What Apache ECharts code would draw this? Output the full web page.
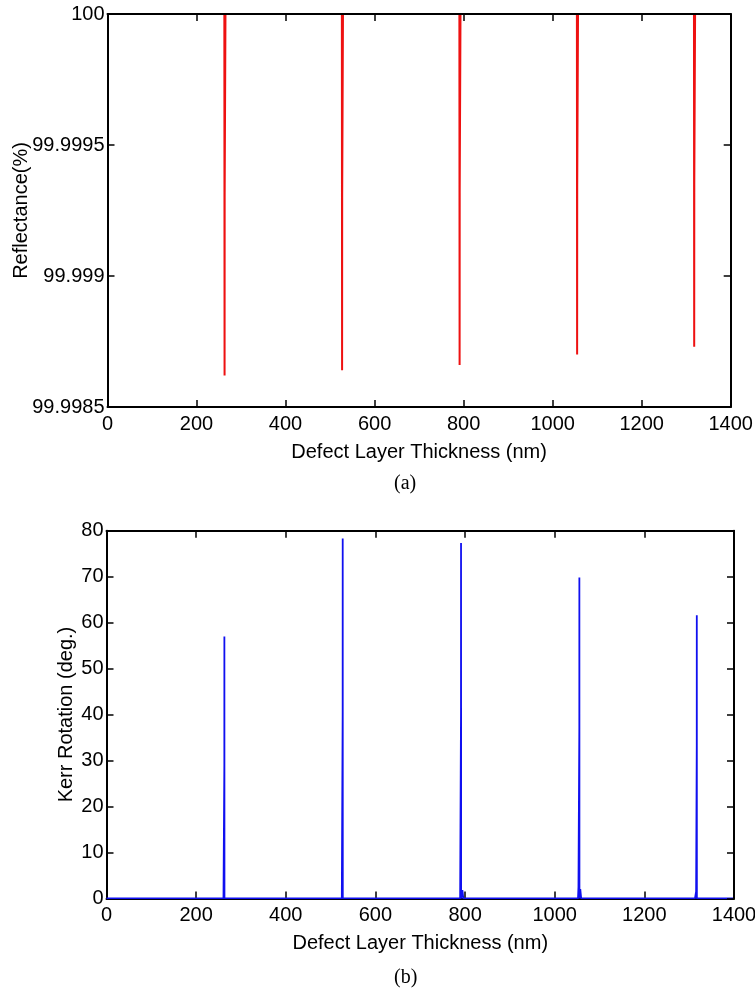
<!DOCTYPE html>
<html>
<head>
<meta charset="utf-8">
<script src="https://cdn.jsdelivr.net/npm/echarts@6/dist/echarts.min.js"></script>
<style>
html,body{margin:0;padding:0;background:#fff;}
#chart{width:755px;height:989px;}
</style>
</head>
<body>
<div id="chart"></div>
<script>
// ---- Data ----
// (a) Reflectance vs defect layer thickness
const reflThickness = [0,
  262.5, 263.0, 263.2, 265.0,
  526.5, 527.0, 527.2, 529.0,
  790.5, 791.0, 791.2, 793.0,
  1054.5, 1055.0, 1055.2, 1057.0,
  1317.5, 1318.0, 1318.2, 1320.0,
  1400];
const reflValue = [100,
  100, 99.99862, 99.99930, 100,
  100, 99.99864, 99.99930, 100,
  100, 99.99866, 99.99932, 100,
  100, 99.99870, 99.99934, 100,
  100, 99.99873, 99.99935, 100,
  100];

// (b) Kerr rotation vs defect layer thickness
const kerrThickness = [0,
  261.0, 262.9, 263.0, 263.2,
  525.0, 526.9, 527.0, 527.2,
  789.0, 790.9, 791.0, 791.2, 794.0, 796.0,
  1052.0, 1053.0, 1054.9, 1055.0, 1055.2, 1057.0, 1059.0,
  1313.0, 1315.5, 1316.9, 1317.0, 1317.2,
  1400];
const kerrValue = [0,
  0, 29.0, 57.0, 0,
  0, 40.3, 78.3, 0,
  0, 40.3, 77.3, 0, 1.8, 0,
  0, 2.5, 37.0, 69.8, 0, 2.0, 0,
  0, 1.5, 33.3, 61.6, 0,
  0];

const xTickMin = 0, xTickMax = 1400, xTickStep = 200;
const reflTickMin = 99.9985, reflTickMax = 100, reflTickStep = 0.0005;
const kerrTickMin = 0, kerrTickMax = 80, kerrTickStep = 10;

const xTitle = 'Defect Layer Thickness (nm)';
const reflTitle = 'Reflectance(%)';
const kerrTitle = 'Kerr Rotation (deg.)';
const panelLabels = ['(a)', '(b)'];

// ---- Chart ----
const FONT = 'Liberation Sans, Arial, sans-serif';
const chart = echarts.init(document.getElementById('chart'), null, {renderer: 'canvas'});

function baseAxis(extra) {
  return Object.assign({
    axisLine: {show: true, onZero: false, lineStyle: {color: '#000', width: 2}},
    axisTick: {show: true, inside: true, length: 7, lineStyle: {color: '#000', width: 1.5}},
    splitLine: {show: false},
    nameMoveOverlap: false,
    axisLabel: {color: '#000', fontSize: 20, fontFamily: FONT}
  }, extra);
}

const xCommon = {type: 'value', min: xTickMin, max: xTickMax, interval: xTickStep};
const xLabel = {color: '#000', fontSize: 20, fontFamily: FONT, margin: 7, formatter: v => String(v)};

const option = {
  animation: false,
  backgroundColor: '#fff',
  grid: [
    {left: 107.5, right: 24.3, top: 14, height: 393, outerBoundsMode: 'none', containLabel: false},
    {left: 106.5, right: 21, top: 530.7, height: 367.7, outerBoundsMode: 'none', containLabel: false}
  ],
  xAxis: [
    baseAxis(Object.assign({}, xCommon, {gridIndex: 0, position: 'bottom',
      axisLabel: xLabel,
      name: xTitle, nameLocation: 'middle', nameGap: 35,
      nameTextStyle: {color: '#000', fontSize: 20, fontFamily: FONT}})),
    baseAxis(Object.assign({}, xCommon, {gridIndex: 0, position: 'top', z: 10,
      axisLabel: {show: false}})),
    baseAxis(Object.assign({}, xCommon, {gridIndex: 1, position: 'bottom',
      axisLabel: xLabel,
      name: xTitle, nameLocation: 'middle', nameGap: 35,
      nameTextStyle: {color: '#000', fontSize: 20, fontFamily: FONT}})),
    baseAxis(Object.assign({}, xCommon, {gridIndex: 1, position: 'top', z: 10,
      axisLabel: {show: false}}))
  ],
  yAxis: [
    baseAxis({gridIndex: 0, type: 'value', position: 'left',
      min: reflTickMin, max: reflTickMax, interval: reflTickStep,
      axisLabel: {color: '#000', fontSize: 20, fontFamily: FONT, margin: 3,
        formatter: v => String(parseFloat(v.toFixed(4)))},
      name: reflTitle, nameLocation: 'middle', nameGap: 76,
      nameTextStyle: {color: '#000', fontSize: 20, fontFamily: FONT}}),
    baseAxis({gridIndex: 0, type: 'value', position: 'right', z: 10,
      min: reflTickMin, max: reflTickMax, interval: reflTickStep,
      axisLabel: {show: false}}),
    baseAxis({gridIndex: 1, type: 'value', position: 'left',
      min: kerrTickMin, max: kerrTickMax, interval: kerrTickStep,
      axisLabel: {color: '#000', fontSize: 20, fontFamily: FONT, margin: 3},
      name: kerrTitle, nameLocation: 'middle', nameGap: 30,
      nameTextStyle: {color: '#000', fontSize: 20, fontFamily: FONT}}),
    baseAxis({gridIndex: 1, type: 'value', position: 'right', z: 10,
      min: kerrTickMin, max: kerrTickMax, interval: kerrTickStep,
      axisLabel: {show: false}})
  ],
  series: [
    {type: 'line', xAxisIndex: 0, yAxisIndex: 0, showSymbol: false, silent: true,
      lineStyle: {color: '#ee1111', width: 2}, clip: true,
      data: reflThickness.map((t, i) => [t, reflValue[i]])},
    {type: 'line', xAxisIndex: 2, yAxisIndex: 2, showSymbol: false, silent: true,
      lineStyle: {color: '#1010f0', width: 1.8}, clip: true,
      data: kerrThickness.map((t, i) => [t, kerrValue[i]])}
  ],
  graphic: [
    {type: 'text', left: 394, top: 474, style: {text: panelLabels[0], fill: '#000',
      font: '20px "Liberation Serif", "Times New Roman", serif'}},
    {type: 'text', left: 394, top: 968, style: {text: panelLabels[1], fill: '#000',
      font: '20px "Liberation Serif", "Times New Roman", serif'}}
  ]
};
chart.setOption(option);
</script>
</body>
</html>
